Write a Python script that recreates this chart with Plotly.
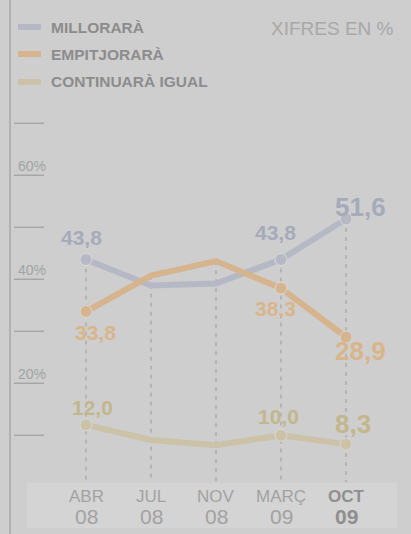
import plotly.graph_objects as go

# data
months = ["ABR", "JUL", "NOV", "MARÇ", "OCT"]
years = ["08", "08", "08", "09", "09"]
millorara = [43.8, 38.8, 39.2, 43.8, 51.6]
empitjorara = [33.8, 40.7, 43.5, 38.3, 28.9]
continuara = [12.0, 9.1, 8.1, 10.0, 8.3]
labelled = [0, 3, 4]          # points that carry a value label
tick_vals = [10, 20, 30, 40, 50, 60, 70]
tick_text = {20: "20%", 40: "40%", 60: "60%"}

BG = "#cecece"
FONT = "Liberation Sans, Arial, sans-serif"

series = [
    ("MILLORARÀ", millorara, "#b6b9c5", "#a5abba",
     [(-5, 22, 21), (-6, 27, 21), (14, 12, 26)]),
    ("EMPITJORARÀ", empitjorara, "#d5b48e", "#d9b58c",
     [(9, -21, 21), (-6, -20, 21), (14, -14, 26)]),
    ("CONTINUARÀ IGUAL", continuara, "#cbc2a8", "#c2b68d",
     [(6, 17, 21), (-3, 19, 21), (7, 20, 26)]),
]

x = list(range(len(months)))
fig = go.Figure()

# dashed guides from the highest point down to the month band
for i in x:
    top = max(millorara[i], empitjorara[i], continuara[i])
    fig.add_trace(go.Scatter(x=[i, i], y=[top, 1.0], mode="lines",
                             line=dict(color="#9a9a9a", width=1, dash="4px,5px"),
                             hoverinfo="skip", showlegend=False))

for name, vals, col, tcol, offs in series:
    fig.add_trace(go.Scatter(x=x, y=vals, mode="lines", name=name,
                             line=dict(color=col, width=6), showlegend=False))
    fig.add_trace(go.Scatter(x=[x[i] for i in labelled], y=[vals[i] for i in labelled],
                             mode="markers", showlegend=False,
                             marker=dict(size=12, color=col, line=dict(color="#d9d9d9", width=1))))
    for (i, (dx, dy, fs)) in zip(labelled, offs):
        fig.add_annotation(x=x[i], y=vals[i], xshift=dx, yshift=dy, showarrow=False,
                           yanchor="middle",
                           text=f"{vals[i]:.1f}".replace(".", ","),
                           font=dict(family=FONT, size=fs, color=tcol, weight="bold"))

# short tick lines and % labels on the left
for v in tick_vals:
    fig.add_shape(type="line", xref="paper", yref="y", x0=14 / 411, x1=44 / 411, y0=v, y1=v,
                  line=dict(color="#a6a6a6", width=1.5))
    if v in tick_text:
        fig.add_annotation(xref="paper", yref="y", x=16 / 411, y=v, yshift=9, xanchor="left",
                           yanchor="middle", showarrow=False, text=tick_text[v],
                           font=dict(family=FONT, size=14, color="#a2a2a2"))

# left rule
fig.add_shape(type="line", xref="paper", yref="paper", x0=10 / 411, x1=10 / 411, y0=0, y1=1,
              line=dict(color="#a8a8a8", width=1.5))

# month band
fig.add_shape(type="rect", xref="paper", yref="paper", x0=27 / 411, x1=397 / 411,
              y0=1 - 528 / 534, y1=1 - 483 / 534, fillcolor="#d4d4d4", line=dict(width=0),
              layer="below")
for i in x:
    last = i == len(months) - 1
    col = "#8f8f8f" if last else "#a2a2a2"
    w = "bold" if last else "normal"
    fig.add_annotation(x=x[i], xref="x", yref="paper", y=1 - 496 / 534, showarrow=False,
                       yanchor="middle", text=months[i],
                       font=dict(family=FONT, size=17, color=col, weight=w))
    fig.add_annotation(x=x[i], xref="x", yref="paper", y=1 - 516 / 534, showarrow=False,
                       yanchor="middle", text=years[i],
                       font=dict(family=FONT, size=21, color=col, weight=w))

# legend drawn by hand
for k, (name, vals, col, tcol, offs) in enumerate(series):
    yc = [27, 54, 82][k]
    fig.add_shape(type="rect", xref="paper", yref="paper", x0=18 / 411, x1=41 / 411,
                  y0=1 - (yc + 3) / 534, y1=1 - (yc - 3) / 534, fillcolor=col, line=dict(width=0))
    fig.add_annotation(xref="paper", yref="paper", x=49 / 411, y=1 - yc / 534, xanchor="left",
                       yanchor="middle", showarrow=False, text=name,
                       font=dict(family=FONT, size=15.5, color="#8c8c8c", weight="bold"))

fig.add_annotation(xref="paper", yref="paper", x=396 / 411, y=1 - 28 / 534, xanchor="right",
                   yanchor="middle", showarrow=False, text="XIFRES EN %",
                   font=dict(family=FONT, size=19, color="#a8a8a8"))

fig.update_layout(
    width=411, height=534, autosize=False,
    margin=dict(l=0, r=0, t=0, b=0),
    paper_bgcolor=BG, plot_bgcolor=BG,
    xaxis=dict(range=[-86 / 65, (411 - 86) / 65], visible=False, fixedrange=True),
    yaxis=dict(range=[-(534 - 487.3) / 5.2, 487.3 / 5.2], visible=False, fixedrange=True),
    showlegend=False,
)

fig.write_html("out.html", config={"displayModeBar": False},
               post_script="document.body.style.margin='0';")
